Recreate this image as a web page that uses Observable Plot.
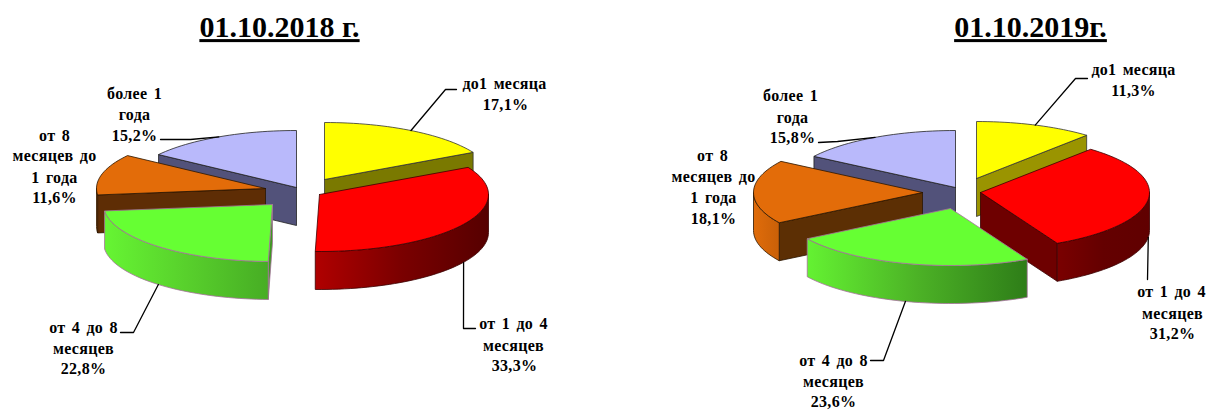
<!DOCTYPE html>
<html><head><meta charset="utf-8">
<style>
html,body{margin:0;padding:0;background:#fff;overflow:hidden}
.ttl text{text-decoration:underline}
.lbl text{letter-spacing:.3px;word-spacing:2px}
</style>
<script src="https://cdn.jsdelivr.net/npm/d3@7"></script>
<script src="https://cdn.jsdelivr.net/npm/@observablehq/plot@0.6"></script>
</head><body><div id="c"></div>
<script>
// ---- data ----
const categories = ["до1 месяца","от 1 до 4 месяцев","от 4 до 8 месяцев","от 8 месяцев до 1 года","более 1 года"];
const values2018 = [17.1,33.3,22.8,11.6,15.2];
const values2019 = [11.3,31.2,23.6,18.1,15.8];
const titles = ["01.10.2018 г.","01.10.2019г."];
const labelRows2018 = [["до1 месяца","17,1%"],["от 1 до 4","месяцев","33,3%"],["от 4 до 8","месяцев","22,8%"],["от 8","месяцев до","1 года","11,6%"],["более 1","года","15,2%"]];
const labelRows2019 = [["до1 месяца","11,3%"],["от 1 до 4","месяцев","31,2%"],["от 4 до 8","месяцев","23,6%"],["от 8","месяцев до","1 года","18,1%"],["более 1","года","15,8%"]];

// ---- layout (pie geometry, one exploded centre per slice) ----
const RX=169, RY=57, DEPTH=38;
const centres2018=[[324,179],[319,194],[272,204],[265,188],[296,187]];
const centres2019=[[976,178],[980,192],[950,208],[922,192],[955,187]];
const labelPos2018=[[[504,83],[505,104]],[[513,323],[513,345],[514,365]],[[83,327],[83,348],[83,368]],[[54,135],[54,155],[54,177],[54,197]],[[134,93],[134,114],[134,135]]];
const labelPos2019=[[[1133,69],[1133,90]],[[1171,291],[1172,313],[1172,333]],[[833,360],[833,381],[833,401]],[[712,155],[713,176],[713,197],[713,218]],[[790,95],[792,117],[792,137]]];
// leader bends, after the anchor on the slice's mid-angle
const leaders2018=[[[445,89],[456,89]],[[463,328],[475,328]],[[133,332],[120,332]],null,[[190,139],[160,139]]];
const leaders2019=[[[1075,78],[1087,78]],[[1147,279]],[[883,360],[870,360]],null,[[837,141],[818,142]]];

const sliceStyle=[
 {top:"#ffff00",stroke:"#333",wall:["#7a7900","#9a9400"],outer:["#807f00","#807f00"]},
 {top:"#ff0000",stroke:"#3a0000",wall:["#6e0000","#6e0000"],outer:[["#b00000","#7a0000","#560000"],["#7a0000","#640000","#600000"]]},
 {top:"#66ff33",stroke:"#a5709a",wall:["#3c9a1e","#3c9a1e"],outer:[["#66f533","#58d02c","#47ad24"],["#64f232","#4cb226","#2e7d18"]]},
 {top:"#e36c09",stroke:"#2a1500",wall:["#5e2d05","#5c2f04"],outer:[["#c96008","#c96008"],["#e06c0a","#c96008"]]},
 {top:"#b9b9fb",stroke:"#222",wall:["#52527a","#52527a"],outer:["#52527a","#52527a"]}
];
const drawOrder=[0,4,3,1,2];

const rad=d=>d*Math.PI/180;
const pt=(c,a,dz=0)=>[c[0]+RX*Math.sin(rad(a)),c[1]-RY*Math.cos(rad(a))+dz];
function arc(c,a0,a1,dz=0){
  const n=Math.max(1,Math.ceil(Math.abs(a1-a0)/2));
  return d3.range(n+1).map(i=>pt(c,a0+(a1-a0)*i/n,dz));
}
const lineOpts=(fill,stroke,sw)=>({x:d=>d[0],y:d=>d[1],fill,stroke,strokeWidth:sw,strokeLinejoin:"round"});
const close=p=>[...p,p[0]];

const gradients=[];
function pieMarks(values,centres,rows,positions,leaders,year){
  const marks=[];
  let acc=0;
  const angles=values.map(v=>{const a=[acc,acc+v*3.6];acc+=v*3.6;return a;});
  for(const i of drawOrder){
    const [a0,a1]=angles[i],c=centres[i],s=sliceStyle[i];
    const cb=[c[0],c[1]+DEPTH];
    const yearIdx=year;
    // radial walls facing the viewer
    const wallFill=s.wall[yearIdx];
    if(Math.sin(rad(a0))<0) marks.push(Plot.line(close([c,pt(c,a0),pt(c,a0,DEPTH),cb]),lineOpts(wallFill,s.stroke,0.8)));
    if(Math.sin(rad(a1))>0) marks.push(Plot.line(close([c,pt(c,a1),pt(c,a1,DEPTH),cb]),lineOpts(wallFill,s.stroke,0.8)));
    // outer wall (front half of the rim only)
    const w0=Math.max(a0,90),w1=Math.min(a1,270);
    if(w1>w0){
      const id=`g${year}_${i}`;
      gradients.push([id,s.outer[yearIdx]]);
      marks.push(Plot.line(close([...arc(c,w0,w1),...arc(c,w1,w0,DEPTH)]),lineOpts(`url(#${id})`,s.stroke,0.8)));
    }
    // top face
    marks.push(Plot.line(close([c,...arc(c,a0,a1)]),lineOpts(s.top,s.stroke,0.8)));
  }
  // leaders
  leaders.forEach((l,i)=>{
    if(!l) return;
    const [a0,a1]=angles[i],mid=(a0+a1)/2;
    const front=Math.cos(rad(mid))<0;
    const start=pt(centres[i],mid,front?DEPTH:0);
    marks.push(Plot.line([start,...l],{x:d=>d[0],y:d=>d[1],stroke:"#000",strokeWidth:1.3}));
  });
  // labels
  const txt=rows.flatMap((r,i)=>r.map((t,j)=>({t,x:positions[i][j][0],y:positions[i][j][1]})));
  marks.push(Plot.text(txt,{x:"x",y:"y",text:"t",fontSize:16,fontFamily:"Liberation Serif",fontWeight:"bold",fill:"#000",textAnchor:"middle",lineAnchor:"middle",className:"lbl"}));
  return marks;
}
const m1=pieMarks(values2018,centres2018,labelRows2018,labelPos2018,leaders2018,0);
const m2=pieMarks(values2019,centres2019,labelRows2019,labelPos2019,leaders2019,1);

const defsMark=()=>{
  const defs=d3.create("svg:defs");
  for(const [id,stops] of gradients){
    const g=defs.append("linearGradient").attr("id",id).attr("x1",0).attr("x2",1).attr("y1",0).attr("y2",0);
    stops.forEach((col,k)=>g.append("stop").attr("offset",k/(stops.length-1)).attr("stop-color",col));
  }
  return defs.node();
};

const titleData=[{t:titles[0],x:279,y:27},{t:titles[1],x:1030,y:27}];
const chart=Plot.plot({
  width:1207,height:410,margin:0,
  x:{domain:[0,1207],range:[0,1207],axis:null},
  y:{domain:[0,410],range:[0,410],axis:null},
  style:{background:"#fff"},
  marks:[
    defsMark,
    ...m1,...m2,
    Plot.text(titleData,{x:"x",y:"y",text:"t",fontSize:30,fontFamily:"Liberation Serif",fontWeight:"bold",fill:"#000",textAnchor:"middle",lineAnchor:"middle",className:"ttl"})
  ]
});
document.getElementById("c").append(chart);
</script>
</body></html>
